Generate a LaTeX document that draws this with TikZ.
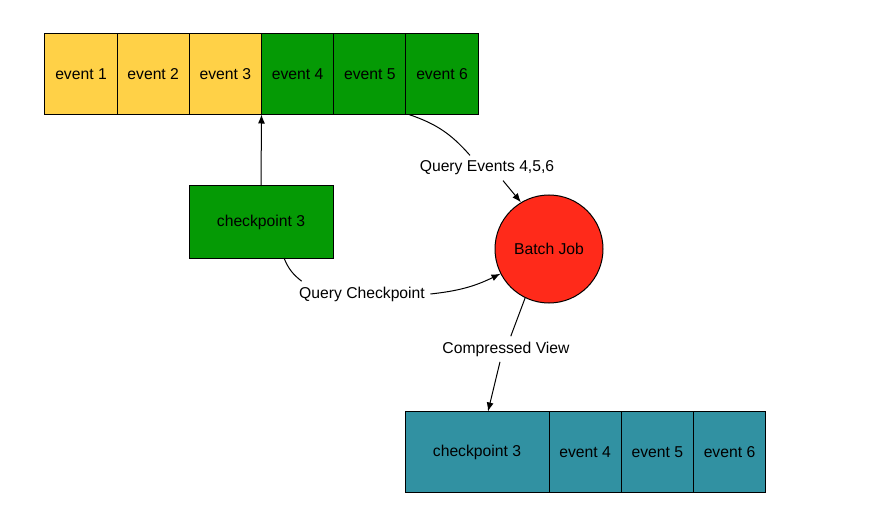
\documentclass[tikz,border=0pt]{standalone}
\usepackage{fontspec}
\setmainfont{Liberation Sans}
\usetikzlibrary{positioning,arrows.meta}
\definecolor{evyellow}{HTML}{FFD147}
\definecolor{evgreen}{HTML}{059A05}
\definecolor{viewteal}{HTML}{3191A2}
\definecolor{jobred}{HTML}{FF2A1A}
\begin{document}
\begin{tikzpicture}[x=1pt,y=-1pt,line width=1pt,
  font=\fontsize{15.7}{18}\selectfont,
  cell/.style={shape=rectangle,draw,minimum width=72.2pt,minimum height=81pt,inner sep=0pt,outer sep=0pt},
  wide/.style={cell,minimum width=144pt},
  lbl/.style={inner sep=5pt},
  tip/.style={-{Latex[length=9pt,width=7pt]}}]
\useasboundingbox (0,0) rectangle (884,516);
\node(e1) at (81,74)[cell,fill=evyellow]            {event 1};
\node(e2) [cell,fill=evyellow,right=0pt of e1]      {event 2};
\node(e3) [cell,fill=evyellow,right=0pt of e2]      {event 3};
\node(e4) [cell,fill=evgreen,right=0pt of e3]       {event 4};
\node(e5) [cell,fill=evgreen,right=0pt of e4]       {event 5};
\node(e6) [cell,fill=evgreen,right=0pt of e5]       {event 6};

\node(cp) at (261,222)[wide,minimum height=72pt,fill=evgreen] {checkpoint 3};
\node(job) at (549,249)[shape=circle,draw,fill=jobred,minimum size=108pt,inner sep=0pt] {Batch Job};

\node(v3) at (477,452)[wide,fill=viewteal]          {checkpoint 3};
\node(v4) [cell,fill=viewteal,right=0pt of v3]      {event 4};
\node(v5) [cell,fill=viewteal,right=0pt of v4]      {event 5};
\node(v6) [cell,fill=viewteal,right=0pt of v5]      {event 6};

\node(qev) at (487,168)[lbl] {Query Events 4,5,6};
\node(qcp) at (362,294)[lbl] {Query Checkpoint};
\node(cv) at (506,349)[lbl]  {Compressed View};

\path [-]
  ([xshift=3pt]e6.south west)  edge [bend left=15]   ([xshift=-17pt]qev.north)
  ([xshift=23pt]cp.south)      edge [bend right=15]  ([xshift=8pt]qcp.north west)
  (job.244)                    edge                  (cv);

\path [tip]
  (cp.north)                   edge                  (e4.south west)
  ([xshift=16pt]qev.south)     edge                  (job.121)
  (qcp.east)                   edge [bend right=10]  (job.207)
  ([xshift=-6pt]cv.south)      edge                  ([xshift=11pt]v3.north);
\end{tikzpicture}
\end{document}
